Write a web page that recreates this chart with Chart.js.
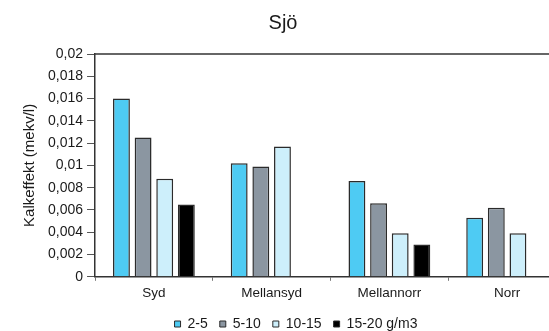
<!DOCTYPE html>
<html>
<head>
<meta charset="utf-8">
<script src="https://cdn.jsdelivr.net/npm/chart.js@4/dist/chart.umd.min.js"></script>
<style>
  html, body { margin: 0; padding: 0; background: #fff; overflow: hidden; }
  #wrap { width: 570px; height: 331px; }
</style>
</head>
<body>
<div id="wrap"><canvas id="c" width="570" height="331"></canvas></div>
<script>
// Kalkeffekt per region and dose class
const categories = ['Syd', 'Mellansyd', 'Mellannorr', 'Norr'];
const seriesNames = ['2-5', '5-10', '10-15', '15-20 g/m3'];
const dose2to5   = [0.0160, 0.0102, 0.0086, 0.0053];
const dose5to10  = [0.0125, 0.0099, 0.0066, 0.0062];
const dose10to15 = [0.0088, 0.0117, 0.0039, 0.0039];
const dose15to20 = [0.0065, null,   0.0029, null];
const yTickLabels = ['0', '0,002', '0,004', '0,006', '0,008', '0,01',
                     '0,012', '0,014', '0,016', '0,018', '0,02'];

const fills = ['#4ecbf3', '#8b96a1', '#cdeffb', '#000000'];
const seriesValues = [dose2to5, dose5to10, dose10to15, dose15to20];

const axisColor = '#333333';
const textColor = '#1a1a1a';
const fontFamily = '"Liberation Sans", Arial, sans-serif';

// thin frame line along the top of the plot area
const topBorder = {
  id: 'topBorder',
  afterDraw(chart) {
    const { ctx, chartArea } = chart;
    ctx.save();
    ctx.strokeStyle = axisColor;
    ctx.lineWidth = 1.5;
    ctx.beginPath();
    ctx.moveTo(chartArea.left, chartArea.top);
    ctx.lineTo(chartArea.right, chartArea.top);
    ctx.stroke();
    ctx.restore();
  }
};

// nudge the legend row to the right
const legendShift = {
  id: 'legendShift',
  afterLayout(chart) {
    const lg = chart.legend;
    if (lg) { lg.left += 13; lg.right += 13; }
  }
};

new Chart(document.getElementById('c'), {
  type: 'bar',
  data: {
    labels: categories,
    datasets: seriesValues.map((vals, i) => ({
      label: seriesNames[i],
      data: vals,
      backgroundColor: fills[i],
      borderColor: '#2b2b2b',
      borderWidth: 1.5,
      categoryPercentage: 0.735,
      barPercentage: 0.78
    }))
  },
  options: {
    responsive: false,
    animation: false,
    devicePixelRatio: 1,
    layout: { padding: { left: 0, right: 4, top: 0, bottom: -10 } },
    plugins: {
      title: {
        display: true,
        text: 'Sjö',
        color: textColor,
        font: { family: fontFamily, size: 20, weight: 'normal' },
        padding: { top: 11, bottom: 19 }
      },
      legend: {
        position: 'bottom',
        labels: {
          color: textColor,
          font: { family: fontFamily, size: 14 },
          boxWidth: 6,
          boxHeight: 6,
          padding: 12,
          generateLabels(chart) {
            return chart.data.datasets.map((ds, i) => ({
              text: ds.label,
              fillStyle: ds.backgroundColor,
              strokeStyle: '#2b2b2b',
              lineWidth: 1,
              datasetIndex: i,
              fontColor: textColor
            }));
          }
        }
      },
      tooltip: { enabled: false }
    },
    scales: {
      x: {
        grid: {
          display: true,
          offset: true,
          drawOnChartArea: false,
          drawTicks: true,
          tickLength: 4,
          color: '#777'
        },
        border: { display: true, color: axisColor, width: 1.5 },
        ticks: {
          color: textColor,
          font: { family: fontFamily, size: 13.5 },
          padding: 4,
          maxRotation: 0
        }
      },
      y: {
        min: 0,
        max: 0.02,
        grid: {
          display: true,
          drawOnChartArea: false,
          drawTicks: true,
          tickLength: 8,
          color: '#555'
        },
        border: { display: true, color: axisColor, width: 1.5 },
        ticks: {
          stepSize: 0.002,
          color: textColor,
          font: { family: fontFamily, size: 14 },
          padding: 4,
          callback: (v, i) => yTickLabels[i]
        },
        title: {
          display: true,
          text: 'Kalkeffekt (mekv/l)',
          color: textColor,
          font: { family: fontFamily, size: 15 },
          padding: { top: 21, bottom: 5 }
        }
      }
    }
  },
  plugins: [topBorder, legendShift]
});
</script>
</body>
</html>
